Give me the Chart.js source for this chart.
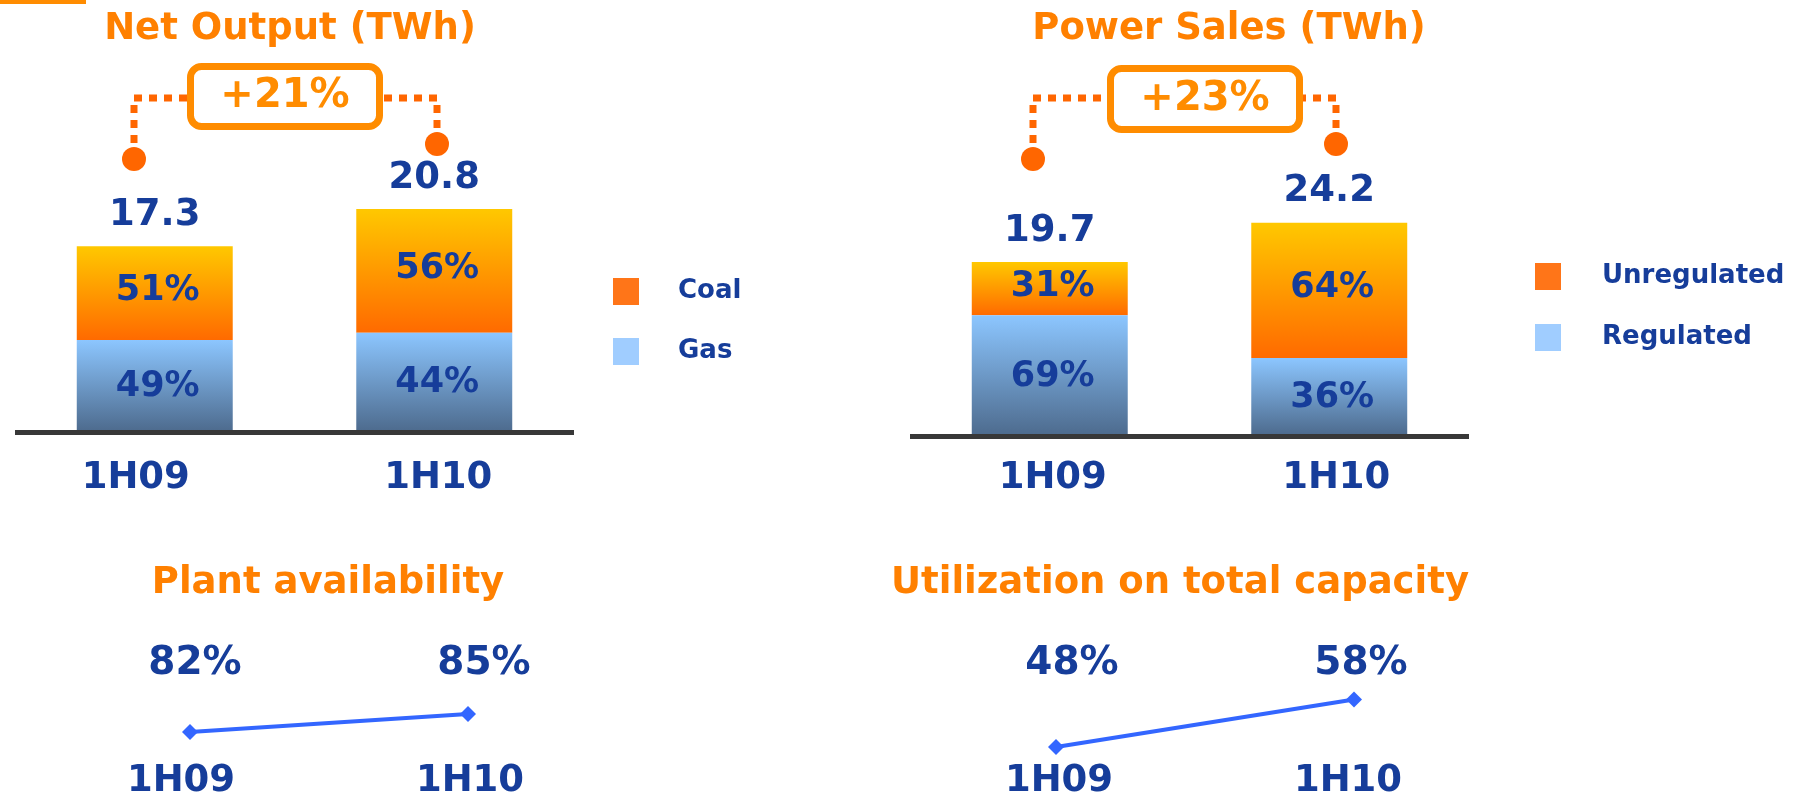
<!DOCTYPE html>
<html><head><meta charset="utf-8">
<script src="https://cdn.jsdelivr.net/npm/chart.js@4.4.1/dist/chart.umd.min.js"></script>
<style>
html,body{margin:0;padding:0;background:#fff;}
#wrap{position:relative;width:1798px;height:798px;overflow:hidden;background:#fff;}
canvas{position:absolute;}
</style></head><body>
<div id="wrap">
<canvas id="c1" width="899" height="520" style="left:0;top:0;width:899px;height:520px"></canvas>
<canvas id="c2" width="899" height="520" style="left:899px;top:0;width:899px;height:520px"></canvas>
<canvas id="c3" width="899" height="278" style="left:0;top:520px;width:899px;height:278px"></canvas>
<canvas id="c4" width="949" height="278" style="left:849px;top:520px;width:949px;height:278px"></canvas>
</div>
<script>
// ---------- DATA ----------
const categories = ['1H09', '1H10'];

const netOutputTitle = 'Net Output (TWh)';
const netOutputTotals = [17.3, 20.8];
const netGasPct = [49, 44];
const netCoalPct = [51, 56];
const netSeriesNames = ['Gas', 'Coal'];
const netGrowth = '+21%';

const salesTitle = 'Power Sales (TWh)';
const salesTotals = [19.7, 24.2];
const salesRegulatedPct = [69, 36];
const salesUnregulatedPct = [31, 64];
const salesSeriesNames = ['Regulated', 'Unregulated'];
const salesGrowth = '+23%';

const availabilityTitle = 'Plant availability';
const availabilityPct = [82, 85];

const utilizationTitle = 'Utilization on total capacity';
const utilizationPct = [48, 58];

// ---------- STYLE ----------
const FONT = '"DejaVu Sans", Verdana, sans-serif';
const BLUE = '#163D9A';
const ORANGE_TITLE = '#FF8000';
const ORANGE_BOX = '#FF8C00';
const ORANGE_DOT = '#FF6600';
const LINE_BLUE = '#3366FF';
const upperStops = ['#FFC800', '#FF6A00'];
const lowerStops = ['#8CC6FF', '#4E6C8F'];
const legendUpper = '#FF7518';
const legendLower = '#A0CDFF';

function segGradient(stops) {
  return (ctx) => {
    const chart = ctx.chart;
    if (ctx.type !== 'data' || !chart.chartArea || !chart.scales.y) return stops[1];
    const ys = chart.scales.y;
    const i = ctx.dataIndex;
    let base = 0;
    for (let d = 0; d < ctx.datasetIndex; d++) base += chart.data.datasets[d].data[i];
    const top = base + chart.data.datasets[ctx.datasetIndex].data[i];
    const g = chart.ctx.createLinearGradient(0, ys.getPixelForValue(top), 0, ys.getPixelForValue(base));
    g.addColorStop(0, stops[0]);
    g.addColorStop(1, stops[1]);
    return g;
  };
}

function text(ctx, s, x, y, size, color, align) {
  ctx.font = 'bold ' + size + 'px ' + FONT;
  ctx.fillStyle = color;
  ctx.textAlign = align || 'center';
  ctx.textBaseline = 'middle';
  ctx.fillText(s, x, y);
}

function barChart(id, o) {
  const lower = o.totals.map((t, i) => t * o.lowerPct[i] / 100);
  const upper = o.totals.map((t, i) => t * o.upperPct[i] / 100);
  const plugin = {
    id: 'deco' + id,
    afterDraw(chart) {
      const c = chart.ctx, xs = chart.scales.x, ys = chart.scales.y, a = chart.chartArea;
      c.save();
      // base line
      c.fillStyle = '#383838';
      c.fillRect(a.left, a.bottom, a.right - a.left, 5);
      // bar labels
      categories.forEach((cat, i) => {
        const x = xs.getPixelForValue(i);
        const yBase = ys.getPixelForValue(0);
        const yMid = ys.getPixelForValue(lower[i]);
        const yTop = ys.getPixelForValue(lower[i] + upper[i]);
        text(c, o.totals[i].toFixed(1), x, yTop - 31, 37, BLUE);
        text(c, o.upperPct[i] + '%', x + 3, (yTop + yMid) / 2 - 2, 35, BLUE);
        text(c, o.lowerPct[i] + '%', x + 3, (yMid + yBase) / 2 + 2, 35, BLUE);
        text(c, cat, x + o.catOffset[i], 478, 37, BLUE);
      });
      // title
      text(c, o.title, o.titleX, 29, 37, ORANGE_TITLE);
      // connectors
      const an = o.ann;
      c.strokeStyle = ORANGE_DOT;
      c.lineWidth = 7;
      c.setLineDash([8, 7]);
      c.beginPath();
      c.moveTo(an.lx, an.lEnd); c.lineTo(an.lx, an.hy); c.lineTo(an.box.x + 4, an.hy);
      c.stroke();
      c.beginPath();
      c.moveTo(an.rx, an.rEnd); c.lineTo(an.rx, an.hy); c.lineTo(an.box.x + an.box.w - 4, an.hy);
      c.stroke();
      c.setLineDash([]);
      c.fillStyle = ORANGE_DOT;
      c.beginPath(); c.arc(an.lx, an.lDot, 12, 0, Math.PI * 2); c.fill();
      c.beginPath(); c.arc(an.rx, an.rDot, 12, 0, Math.PI * 2); c.fill();
      // box
      c.beginPath();
      c.roundRect(an.box.x + 3.5, an.box.y + 3.5, an.box.w - 7, an.box.h - 7, 11);
      c.fillStyle = '#fff'; c.fill();
      c.lineWidth = 7; c.strokeStyle = ORANGE_BOX; c.stroke();
      text(c, o.growth, an.tx, an.ty, 40, ORANGE_BOX);
      // legend
      const L = o.legend;
      c.fillStyle = legendUpper;
      c.fillRect(L.x - 13, L.y1 - 13, 26, 27);
      c.fillStyle = legendLower;
      c.fillRect(L.x - 13, L.y2 - 13, 26, 27);
      text(c, o.names[1], L.tx, L.y1, 26, BLUE, 'left');
      text(c, o.names[0], L.tx, L.y2, 26, BLUE, 'left');
      if (o.corner) { c.fillStyle = ORANGE_BOX; c.fillRect(0, 0, 86, 4); }
      c.restore();
    }
  };
  return new Chart(document.getElementById(id), {
    type: 'bar',
    data: {
      labels: categories,
      datasets: [
        { label: o.names[0], data: lower, backgroundColor: segGradient(lowerStops), borderWidth: 0 },
        { label: o.names[1], data: upper, backgroundColor: segGradient(upperStops), borderWidth: 0 }
      ]
    },
    options: {
      responsive: false, animation: false,
      layout: { padding: o.padding },
      categoryPercentage: 1, barPercentage: 0.558,
      plugins: { legend: { display: false }, tooltip: { enabled: false } },
      scales: {
        x: { stacked: true, display: false, offset: true },
        y: { stacked: true, display: false, min: 0, max: o.max }
      }
    },
    plugins: [plugin]
  });
}

function lineChart(id, o) {
  const plugin = {
    id: 'deco' + id,
    afterDraw(chart) {
      const c = chart.ctx, xs = chart.scales.x;
      c.save();
      text(c, o.title, o.titleX, 63, 37, ORANGE_TITLE);
      categories.forEach((cat, i) => {
        const x = xs.getPixelForValue(i);
        text(c, o.values[i] + '%', x + o.valOffset[i], 144, 39, BLUE);
        text(c, cat, x + o.catOffset[i], 261, 37, BLUE);
      });
      c.restore();
    }
  };
  return new Chart(document.getElementById(id), {
    type: 'line',
    data: {
      labels: categories,
      datasets: [{
        data: o.values, borderColor: LINE_BLUE, borderWidth: 4, tension: 0, clip: false,
        pointStyle: 'rectRot', pointRadius: 8, pointBackgroundColor: LINE_BLUE, pointBorderWidth: 0
      }]
    },
    options: {
      responsive: false, animation: false,
      layout: { padding: o.padding },
      plugins: { legend: { display: false }, tooltip: { enabled: false } },
      scales: {
        x: { display: false, offset: false },
        y: { display: false, min: o.min, max: o.max }
      }
    },
    plugins: [plugin]
  });
}

barChart('c1', {
  title: netOutputTitle, titleX: 290, totals: netOutputTotals,
  lowerPct: netGasPct, upperPct: netCoalPct, names: netSeriesNames, growth: netGrowth,
  max: 40, padding: { left: 15, right: 325, top: 5, bottom: 90 },
  catOffset: [-19, 4], corner: true,
  ann: { box: { x: 187, y: 63, w: 196, h: 67 }, tx: 285, ty: 97, hy: 98,
         lx: 134, lEnd: 143, lDot: 159, rx: 437, rEnd: 128, rDot: 144 },
  legend: { x: 626, y1: 291, y2: 351, tx: 678 }
});

barChart('c2', {
  title: salesTitle, titleX: 330, totals: salesTotals,
  lowerPct: salesRegulatedPct, upperPct: salesUnregulatedPct, names: salesSeriesNames, growth: salesGrowth,
  max: 48, padding: { left: 11, right: 329, top: 15, bottom: 86 },
  catOffset: [3, 7], corner: false,
  ann: { box: { x: 208, y: 65, w: 196, h: 68 }, tx: 306, ty: 100, hy: 98,
         lx: 134, lEnd: 143, lDot: 159, rx: 437, rEnd: 128, rDot: 144 },
  legend: { x: 649, y1: 276, y2: 337, tx: 703 }
});

lineChart('c3', {
  title: availabilityTitle, titleX: 328, values: availabilityPct,
  min: 80, max: 90, padding: { left: 190, right: 431, top: 164, bottom: 54 },
  valOffset: [5, 16], catOffset: [-9, 2]
});

lineChart('c4', {
  title: utilizationTitle, titleX: 331, values: utilizationPct,
  min: 40, max: 60, padding: { left: 207, right: 444, top: 170, bottom: 13 },
  valOffset: [16, 7], catOffset: [3, -6]
});
</script>
</body></html>
